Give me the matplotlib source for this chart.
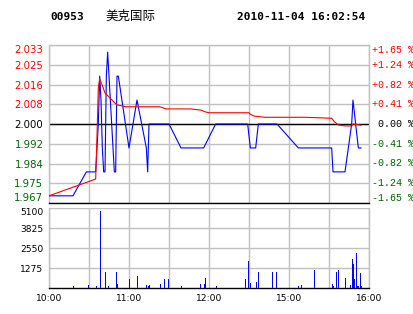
import numpy as np
import matplotlib
matplotlib.use('Agg')
import matplotlib.pyplot as plt

# header
code = '00953'
name = '美克国际'
stamp = '2010-11-04 16:02:54'

# price axis (minutes since 10:00, lunch break removed)
price_ticks = ['1.967', '1.975', '1.984', '1.992', '2.000', '2.008', '2.016', '2.025', '2.033']
pct_ticks = ['-1.65 %', '-1.24 %', '-0.82 %', '-0.41 %', ' 0.00 %', '+0.41 %', '+0.82 %', '+1.24 %', '+1.65 %']
prev_close = 2.000
time_labels = ['10:00', '', '11:00', '', '12:00', '', '15:00', '', '16:00']

# last price
px_min = [0, 18, 28, 35, 36, 37, 38, 39, 40, 41, 42, 43, 44, 45, 46, 47, 48, 49, 50, 51, 52,
          60, 66, 73, 74, 75, 90, 99, 116, 125, 149, 151, 155, 157, 171, 187, 212, 213,
          222, 227, 228, 230, 232, 234]
px = [1.97, 1.97, 1.98, 1.98, 1.99, 2.00, 2.02, 2.01, 1.99, 1.98, 1.98, 2.02, 2.03, 2.02,
      2.01, 2.00, 1.99, 1.98, 1.98, 2.02, 2.02, 1.99, 2.01, 1.99, 1.98, 2.00, 2.00, 1.99,
      1.99, 2.00, 2.00, 1.99, 1.99, 2.00, 2.00, 1.99, 1.99, 1.98, 1.98, 2.00, 2.01, 2.00,
      1.99, 1.99]

# average price
avg_min = [0, 35, 36, 37, 38, 42, 49, 51, 58, 83, 88, 106, 114, 117, 120, 150, 151, 154,
           162, 192, 212, 214, 217, 222, 227, 228, 234]
avg = [1.970, 1.977, 1.995, 2.015, 2.019, 2.013, 2.009, 2.008, 2.0072, 2.0072, 2.0063,
       2.0063, 2.0058, 2.0051, 2.0047, 2.0047, 2.0040, 2.0033, 2.0028, 2.0028, 2.0024,
       2.0010, 1.9996, 1.9992, 1.9992, 2.0000, 1.9995]

# volume
vol_min = [18, 29, 35, 38, 42, 44, 50, 51, 60, 66, 73, 74, 75, 83, 86, 89, 99, 113, 116, 117,
           125, 147, 149, 151, 155, 157, 167, 170, 187, 189, 199, 212, 213, 215, 217, 222,
           226, 227, 228, 229, 230, 231, 232, 233, 234]
vols = [130, 190, 110, 4900, 990, 110, 990, 240, 560, 750, 170, 110, 170, 240, 560, 560, 110,
        240, 240, 620, 130, 580, 1750, 320, 390, 1040, 1040, 1040, 130, 190, 1170, 260, 130,
        1040, 1170, 650, 190, 1880, 1550, 580, 2200, 130, 130, 970, 130]
vol_ticks = [1275, 2550, 3825, 5100]

W, H = 414, 314
GRID = '#c0c0c0'
GREEN = '#006400'

fig = plt.figure(figsize=(W / 100, H / 100), dpi=100)


def px_axes(l, t, r, b):
    return fig.add_axes([l / W, 1 - b / H, (r - l) / W, (b - t) / H])


def frame(a):
    a.set_xlim(0, 240)
    a.set_xticks(np.arange(0, 241, 30))
    a.set_axisbelow(True)
    a.grid(True, color=GRID, lw=1)
    for s in ['left', 'right', 'top']:
        a.spines[s].set_color(GRID)
        a.spines[s].set_linewidth(1)
    a.spines['bottom'].set_color('black')
    a.spines['bottom'].set_linewidth(1)
    a.tick_params(length=0)


def edge_align(labels):
    # first/last labels are kept inside the panel like the original
    labels[0].set_va('bottom')
    labels[-1].set_va('top')


ax = px_axes(49, 45, 369, 203)
frame(ax)
lo, hi = 1.967, 2.033
ax.set_ylim(lo, hi)
yt = np.linspace(lo, hi, len(price_ticks))
ax.set_yticks(yt)
ax.set_yticklabels(price_ticks, fontsize=7.3, family='DejaVu Sans')
ax.tick_params(axis='y', pad=4)
ax.set_xticklabels([])
for lab, v in zip(ax.get_yticklabels(), yt):
    lab.set_color('red' if v > prev_close + 1e-6 else ('black' if abs(v - prev_close) < 1e-6 else GREEN))
edge_align(ax.get_yticklabels())
rtexts = []
for lab, v in zip(pct_ticks, yt):
    c = 'red' if lab.startswith('+') else ('black' if lab.startswith(' ') else GREEN)
    rtexts.append(ax.text((372 - 49) / 320, v, lab, transform=ax.get_yaxis_transform(), color=c,
                          fontsize=7.2, family='Liberation Mono', ha='left', va='center'))
edge_align(rtexts)
ax.axhline(prev_close, color='black', lw=1, zorder=2)
ax.plot(px_min, px, color='#0000ff', lw=0.8, zorder=3)
ax.plot(avg_min, avg, color='#ff0000', lw=0.8, zorder=4)

axv = px_axes(49, 208, 369, 288)
frame(axv)
axv.spines['top'].set_visible(False)
axv.set_ylim(0, 5100)
axv.set_yticks(vol_ticks)
axv.set_yticklabels([str(v) for v in vol_ticks], fontsize=6.6)
axv.get_yticklabels()[-1].set_va('top')
axv.tick_params(axis='y', pad=4)
axv.set_xticklabels(time_labels, fontsize=6.6)
axv.tick_params(axis='x', pad=4)
axv.vlines(vol_min, 0, vols, color='#0000ff', lw=0.5, antialiased=False, zorder=3)

fig.text(50 / W, 1 - 17 / H, code, fontsize=8, family='DejaVu Sans Mono', weight='bold', va='center')
fig.text(105 / W, 1 - 16 / H, name, fontsize=9, family=['Noto Sans CJK SC', 'DejaVu Sans'], va='center')
fig.text(237 / W, 1 - 17 / H, stamp, fontsize=8, family='DejaVu Sans Mono', weight='bold', va='center')

fig.savefig('out.png', dpi=100)
